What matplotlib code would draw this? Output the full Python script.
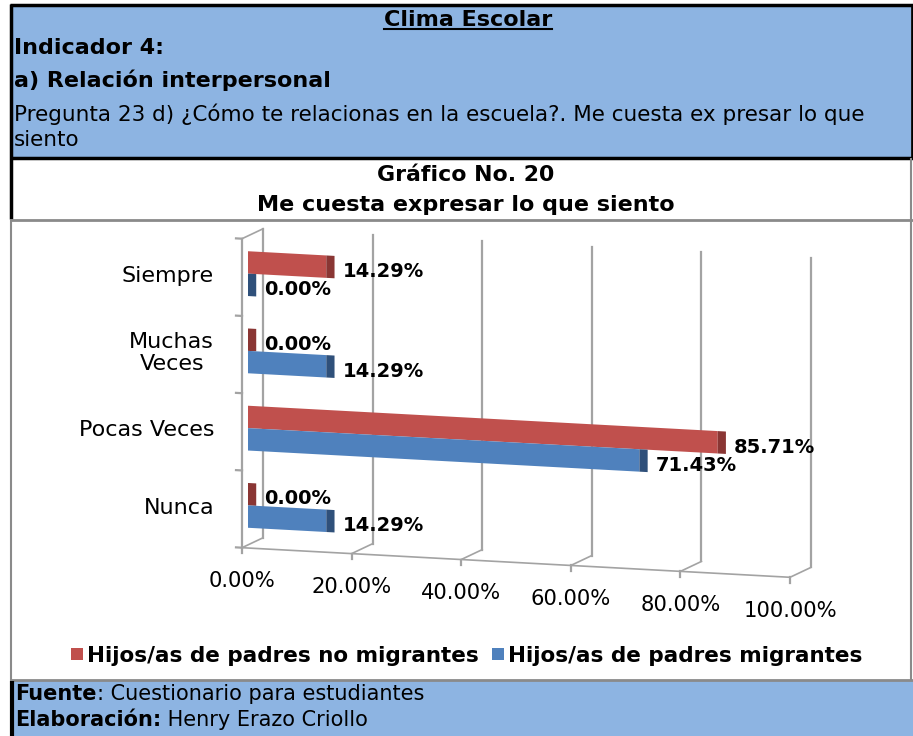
import numpy as np
import matplotlib
matplotlib.use('Agg')
import matplotlib.pyplot as plt
from matplotlib.transforms import Affine2D
from matplotlib.patches import Rectangle
from matplotlib.lines import Line2D

# ---------------- data ----------------
categories = ['Siempre', 'Muchas\nVeces', 'Pocas Veces', 'Nunca']
no_migrantes = [14.29, 0.00, 85.71, 0.00]
migrantes = [0.00, 14.29, 71.43, 14.29]
series_names = ['Hijos/as de padres no migrantes', 'Hijos/as de padres migrantes']
x_ticks = [0, 20, 40, 60, 80, 100]
x_tick_labels = ['0.00%', '20.00%', '40.00%', '60.00%', '80.00%', '100.00%']

# ---------------- styles ----------------
W, H = 913, 736
RED, RED_D = '#C0504D', '#8A3634'
BLU, BLU_D = '#4F81BD', '#2F507A'
BOX = '#8DB4E2'
GRID = '#a3a3a3'

fig = plt.figure(figsize=(W / 100, H / 100), dpi=100)
fig.patch.set_facecolor('white')


def fx(x):
    return x / W


def fy(y):
    return 1 - y / H


def hline(x0, x1, y, color, lw):
    fig.add_artist(Line2D([fx(x0), fx(x1)], [fy(y), fy(y)], transform=fig.transFigure,
                          color=color, lw=lw, solid_capstyle='butt'))


def vline(x, y0, y1, color, lw):
    fig.add_artist(Line2D([fx(x), fx(x)], [fy(y0), fy(y1)], transform=fig.transFigure,
                          color=color, lw=lw, solid_capstyle='butt'))


# ---------------- boxes ----------------
fig.add_artist(Rectangle((fx(11), fy(157)), fx(911) - fx(11), fy(5) - fy(157),
                         transform=fig.transFigure, facecolor=BOX, edgecolor='none'))
fig.add_artist(Rectangle((fx(11), fy(736)), fx(913) - fx(11), fy(681) - fy(736),
                         transform=fig.transFigure, facecolor=BOX, edgecolor='none'))
hline(10, 913, 5, 'black', 2.5)
hline(10, 913, 157.5, 'black', 2.5)
vline(11, 4, 219, 'black', 2.5)
vline(911.5, 4, 158, 'black', 2.0)
hline(10, 913, 219.5, '#8a8a8a', 2.0)
vline(10.5, 219, 681, '#8a8a8a', 1.5)
vline(910.5, 158, 681, '#8a8a8a', 1.5)
hline(10, 913, 680, '#8a8a8a', 2.0)
vline(12, 681, 736, 'black', 3.0)

# ---------------- header texts ----------------
t_title = fig.text(fx(468), fy(20), 'Clima Escolar', ha='center', va='center',
                   fontsize=16, fontweight='bold')
fig.text(fx(14), fy(48), 'Indicador 4:', ha='left', va='center', fontsize=16, fontweight='bold')
fig.text(fx(14), fy(80), 'a) Relación interpersonal', ha='left', va='center',
         fontsize=16, fontweight='bold')
fig.text(fx(14), fy(114), 'Pregunta 23 d) ¿Cómo te relacionas en la escuela?. Me cuesta ex presar lo que',
         ha='left', va='center', fontsize=15.5)
fig.text(fx(14), fy(140), 'siento', ha='left', va='center', fontsize=15.5)
fig.text(fx(466), fy(175), 'Gráfico No. 20', ha='center', va='center', fontsize=15.8, fontweight='bold')
fig.text(fx(466), fy(205), 'Me cuesta expresar lo que siento', ha='center', va='center',
         fontsize=16, fontweight='bold')

# ---------------- chart axes ----------------
ax = fig.add_axes([fx(248), fy(544), 548 / W, 309 / H])
ax.set_xlim(0, 100)
ax.set_ylim(-0.5, 3.5)
ax.axis('off')

k = 0.054
X0 = 248.0
shear = Affine2D().translate(-X0, 0).skew(0, np.arctan(-k)).translate(X0, 0)
T = ax.transData + shear

fdx, fdy = -1.09, -0.052   # front plane offset (data units)
bdx, bdy = 2.74, 0.091     # back plane offset (data units)

ypos = [3, 2, 1, 0]
bh = 0.29
side = 1.5
red_y = [y + bh / 2 for y in ypos]
blue_y = [y - bh / 2 for y in ypos]

# back wall grid lines
for v in x_ticks:
    ax.plot([v + bdx, v + bdx], [-0.5 + bdy, 3.5 + bdy], transform=T, color=GRID,
            lw=1.6, clip_on=False, zorder=1)
# left wall / axis
ax.plot([fdx, fdx], [-0.5 + fdy, 3.5 + fdy], transform=T, color=GRID, lw=1.6, clip_on=False, zorder=1)
for b in [-0.5, 0.5, 1.5, 2.5, 3.5]:
    ax.plot([fdx - 1.1, fdx], [b + fdy, b + fdy], transform=T, color=GRID, lw=1.6,
            clip_on=False, zorder=1)
ax.plot([fdx, bdx], [3.5 + fdy, 3.5 + bdy], transform=T, color=GRID, lw=1.2, clip_on=False, zorder=1)
# floor
ax.plot([fdx, 100 + fdx], [-0.5 + fdy, -0.5 + fdy], transform=T, color=GRID, lw=1.2,
        clip_on=False, zorder=1)
for v, lab in zip(x_ticks, x_tick_labels):
    ax.plot([v + fdx, v + bdx], [-0.5 + fdy, -0.5 + bdy], transform=T, color=GRID, lw=1.2,
            clip_on=False, zorder=1)
    ax.plot([v + fdx, v + fdx], [-0.5 + fdy, -0.5 + fdy - 0.07], transform=T, color=GRID,
            lw=1.6, clip_on=False, zorder=1)
    ax.text(v + fdx, -0.5 + fdy - 0.43, lab, transform=T,
            ha='center', va='center', fontsize=15.2)

# bars
ax.barh(red_y, no_migrantes, height=bh, color=RED, transform=T, clip_on=False, zorder=3)
ax.barh(red_y, [side] * len(no_migrantes), left=no_migrantes, height=bh, color=RED_D,
        transform=T, clip_on=False, zorder=3)
ax.barh(blue_y, migrantes, height=bh, color=BLU, transform=T, clip_on=False, zorder=3)
ax.barh(blue_y, [side] * len(migrantes), left=migrantes, height=bh, color=BLU_D,
        transform=T, clip_on=False, zorder=3)

# value labels
for v, y in zip(no_migrantes, red_y):
    ax.text(v + side + 1.5, y - 0.05, f'{v:.2f}%', transform=T, ha='left', va='center',
            fontsize=14, fontweight='bold', zorder=5)
for v, y in zip(migrantes, blue_y):
    ax.text(v + side + 1.5, y - 0.05, f'{v:.2f}%', transform=T, ha='left', va='center',
            fontsize=14, fontweight='bold', zorder=5)

# category labels
for c, y in zip(categories, ypos):
    ax.text(fdx - 5.1, y + fdy, c, transform=T, ha='right', va='center',
            multialignment='center', fontsize=16, linespacing=1.15)

# legend
handles = [Rectangle((0, 0), 1, 1, facecolor=RED), Rectangle((0, 0), 1, 1, facecolor=BLU)]
fig.legend(handles, series_names, loc='center', bbox_to_anchor=(fx(467), fy(656)), ncol=2,
           frameon=False, prop={'weight': 'bold', 'size': 15.5}, handlelength=0.55,
           handleheight=0.5, handletextpad=0.2, columnspacing=0.6)

# footer (bold part + regular part)
renderer = fig.canvas.get_renderer()
f1 = fig.text(fx(15), fy(694), 'Fuente', ha='left', va='center', fontsize=15, fontweight='bold')
bb1 = f1.get_window_extent(renderer)
fig.text(bb1.x1 / W, fy(694), ': Cuestionario para estudiantes', ha='left', va='center', fontsize=15)
f2 = fig.text(fx(15), fy(720), 'Elaboración:', ha='left', va='center', fontsize=15, fontweight='bold')
bb2 = f2.get_window_extent(renderer)
fig.text(bb2.x1 / W, fy(720), ' Henry Erazo Criollo', ha='left', va='center', fontsize=15)

# underline title
bb = t_title.get_window_extent(renderer)
fig.add_artist(Line2D([bb.x0 / W, bb.x1 / W], [(bb.y0 + 1) / H] * 2, transform=fig.transFigure,
                      color='black', lw=1.5))

fig.savefig('out.png', dpi=100, facecolor='white')
